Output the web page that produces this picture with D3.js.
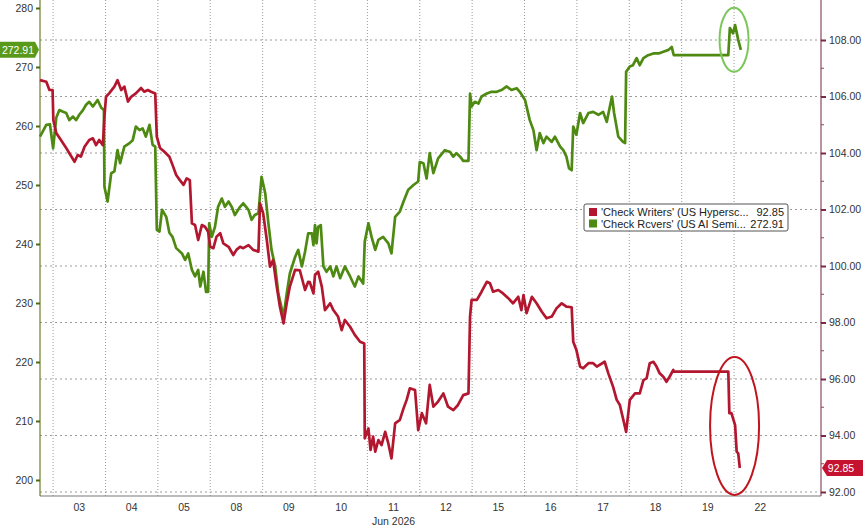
<!DOCTYPE html>
<html>
<head>
<meta charset="utf-8">
<script src="https://cdn.jsdelivr.net/npm/d3@7"></script>
<style>
  html,body{margin:0;padding:0;background:#fff;}
  svg{display:block;font-family:"Liberation Sans",Arial,sans-serif;}
</style>
</head>
<body>
<svg id="chart" width="863" height="527"></svg>
<script>
// ---- data (time in trading days from start of 03 Jun) ----
const dayLabels = ["03","04","05","08","09","10","11","12","15","16","17","18","19","22"];
const leftTicks = [200,210,220,230,240,250,260,270,280];
const rightTicks = [92,94,96,98,100,102,104,106,108];
const rightMinor = [93,95,97,99,101,103,105,107];

const seriesNames = ["'Check Writers' (US Hypersc...", "'Check Rcvers' (US AI Semi..."];
const lastValues = [92.85, 272.91];

// 'Check Rcvers' (left axis)
const rcvers = [[-0.25,258.2],[-0.13,260.2],[-0.06,260.3],[0.0,256.2],[0.06,261.4],[0.12,262.7],[0.19,262.4],[0.25,262.2],[0.31,261.0],[0.38,261.6],[0.44,261.0],[0.50,261.9],[0.57,262.7],[0.63,263.6],[0.69,264.1],[0.76,263.3],[0.85,264.4],[0.92,263.1],[0.97,262.7],[0.98,249.7],[1.04,247.2],[1.11,252.0],[1.17,252.3],[1.23,255.9],[1.28,253.7],[1.36,256.5],[1.46,257.1],[1.52,257.6],[1.58,259.9],[1.65,259.3],[1.71,259.6],[1.77,258.2],[1.84,260.2],[1.90,256.8],[1.95,256.5],[1.98,242.4],[2.03,242.1],[2.08,245.8],[2.16,244.6],[2.22,241.9],[2.28,241.2],[2.35,239.3],[2.46,238.4],[2.52,237.3],[2.58,238.4],[2.65,235.6],[2.71,234.5],[2.77,235.6],[2.81,232.8],[2.87,235.3],[2.92,231.9],[2.96,231.9],[2.98,243.5],[3.03,241.2],[3.09,242.9],[3.15,246.3],[3.22,247.7],[3.28,246.3],[3.35,247.2],[3.41,246.3],[3.47,244.9],[3.57,246.3],[3.63,246.9],[3.73,245.8],[3.79,244.1],[3.85,244.9],[3.92,245.2],[3.98,251.4],[4.05,248.6],[4.11,243.5],[4.17,239.0],[4.24,236.2],[4.30,231.6],[4.40,227.7],[4.46,231.6],[4.52,235.0],[4.62,237.8],[4.68,239.0],[4.75,236.2],[4.81,238.7],[4.87,241.8],[4.94,241.8],[4.97,239.8],[5.00,243.2],[5.03,240.1],[5.06,242.9],[5.11,243.2],[5.16,236.2],[5.22,235.3],[5.29,236.2],[5.35,234.5],[5.41,236.2],[5.48,234.2],[5.57,236.2],[5.67,234.5],[5.76,232.8],[5.83,234.5],[5.92,233.3],[5.95,240.4],[6.02,243.5],[6.08,241.2],[6.15,239.0],[6.21,240.7],[6.30,241.2],[6.40,240.1],[6.46,238.4],[6.53,244.6],[6.62,245.5],[6.69,247.2],[6.78,249.2],[6.88,250.0],[6.97,250.6],[7.00,253.9],[7.07,253.7],[7.13,251.1],[7.19,255.4],[7.26,252.0],[7.35,254.5],[7.48,255.9],[7.58,255.6],[7.64,254.8],[7.70,255.4],[7.77,254.8],[7.83,254.1],[7.93,254.1],[7.96,265.5],[7.99,263.3],[8.05,264.1],[8.12,263.8],[8.18,265.0],[8.28,265.5],[8.37,265.8],[8.47,265.8],[8.56,266.1],[8.66,266.7],[8.75,266.1],[8.85,266.4],[8.91,265.8],[9.01,264.4],[9.10,261.0],[9.17,259.3],[9.23,255.9],[9.29,258.8],[9.36,257.1],[9.42,258.2],[9.52,257.3],[9.58,258.2],[9.68,256.5],[9.74,255.9],[9.80,254.8],[9.85,252.8],[9.90,252.5],[9.93,259.9],[9.99,258.5],[10.06,262.2],[10.12,260.5],[10.22,262.2],[10.31,262.4],[10.41,261.9],[10.50,262.4],[10.57,260.7],[10.63,263.3],[10.67,265.0],[10.71,262.2],[10.79,258.2],[10.88,257.3],[10.92,257.1],[10.94,269.2],[11.01,270.1],[11.07,270.3],[11.14,271.5],[11.20,270.3],[11.27,271.5],[11.36,272.0],[11.46,272.3],[11.56,272.3],[11.65,272.6],[11.75,272.9],[11.81,273.4],[11.84,272.3],[11.85,272.0],[12.89,272.0],[12.92,276.6],[12.98,275.7],[13.02,277.1],[13.08,274.6],[13.13,272.91]];

// 'Check Writers' (right axis)
const writers = [[-0.25,106.58],[-0.13,106.52],[-0.07,106.23],[-0.01,106.23],[0.005,105.17],[0.06,104.71],[0.15,104.46],[0.25,104.18],[0.31,103.99],[0.41,103.69],[0.47,103.93],[0.53,103.87],[0.60,104.22],[0.69,104.46],[0.76,104.52],[0.82,104.28],[0.88,104.46],[0.95,104.28],[0.98,105.29],[1.01,105.99],[1.07,106.11],[1.17,106.35],[1.23,106.58],[1.30,106.23],[1.36,106.35],[1.43,105.82],[1.49,105.99],[1.58,106.11],[1.68,106.30],[1.74,106.17],[1.81,106.23],[1.87,106.17],[1.95,106.11],[1.98,104.58],[2.04,104.18],[2.12,104.05],[2.22,103.87],[2.28,103.58],[2.35,103.22],[2.42,103.04],[2.49,102.87],[2.55,103.10],[2.61,103.04],[2.65,101.51],[2.71,101.45],[2.77,100.92],[2.84,101.45],[2.90,101.39],[2.96,101.21],[3.00,100.68],[3.06,100.63],[3.12,101.04],[3.19,101.16],[3.25,100.80],[3.35,100.68],[3.44,100.39],[3.50,100.57],[3.57,100.68],[3.63,100.63],[3.73,100.74],[3.82,100.57],[3.92,100.51],[3.95,102.22],[4.01,101.87],[4.08,100.92],[4.14,99.98],[4.20,100.21],[4.27,99.27],[4.33,98.56],[4.40,97.97],[4.46,98.68],[4.52,99.27],[4.62,99.86],[4.71,99.85],[4.81,99.15],[4.87,99.44],[4.90,99.43],[4.97,99.03],[5.00,99.68],[5.06,99.80],[5.13,99.27],[5.19,98.44],[5.29,98.68],[5.35,98.44],[5.44,98.21],[5.51,97.73],[5.57,98.09],[5.67,97.85],[5.76,97.56],[5.86,97.32],[5.94,97.26],[5.95,93.90],[6.02,94.25],[6.06,93.49],[6.11,93.96],[6.15,93.43],[6.21,93.84],[6.27,93.66],[6.34,94.13],[6.40,93.72],[6.46,93.19],[6.53,94.43],[6.62,94.55],[6.69,94.96],[6.75,95.26],[6.81,95.67],[6.91,95.61],[6.97,94.19],[7.04,94.79],[7.12,94.43],[7.19,95.79],[7.26,95.02],[7.35,95.20],[7.45,95.49],[7.54,95.02],[7.64,94.90],[7.73,95.08],[7.83,95.43],[7.93,95.49],[7.96,98.21],[7.99,98.80],[8.09,98.80],[8.18,99.09],[8.28,99.44],[8.34,99.39],[8.40,99.09],[8.50,99.15],[8.59,99.03],[8.69,98.86],[8.78,98.68],[8.88,98.91],[8.94,98.44],[8.98,98.97],[9.04,98.33],[9.14,98.91],[9.23,98.68],[9.33,98.38],[9.42,98.15],[9.52,98.21],[9.61,98.50],[9.71,98.68],[9.80,98.56],[9.90,98.54],[9.93,97.32],[9.99,97.03],[10.06,96.44],[10.12,96.38],[10.22,96.56],[10.31,96.56],[10.38,96.44],[10.53,96.61],[10.60,96.20],[10.69,95.73],[10.76,95.26],[10.82,95.08],[10.94,94.13],[11.01,95.26],[11.11,95.49],[11.20,95.49],[11.27,95.96],[11.33,96.02],[11.39,96.56],[11.46,96.61],[11.52,96.44],[11.58,96.20],[11.65,96.08],[11.71,95.90],[11.77,96.08],[11.84,96.32],[11.85,96.26],[12.89,96.26],[12.91,94.79],[12.95,94.79],[13.02,94.37],[13.05,93.43],[13.08,93.37],[13.11,92.85]];

// ---- drawing ----
const W = 863, H = 527;
const plot = {left: 40, right: 821, top: 0, bottom: 496};
const RED = "#b3172f", GREEN = "#4e8a12";

const svg = d3.select("#chart");

const x = d3.scaleLinear().domain([-0.25, 14.66]).range([plot.left, plot.right]);
const yL = d3.scaleLinear().domain([200, 280]).range([480, 8]);
const yR = d3.scaleLinear().domain([92, 108]).range([492, 40]);

// grid
const grid = svg.append("g");
grid.selectAll("line.h").data(rightTicks).join("line")
  .attr("x1", plot.left).attr("x2", plot.right)
  .attr("y1", d => yR(d)).attr("y2", d => yR(d))
  .attr("stroke", "#9a9a9a").attr("stroke-width", 1).attr("stroke-dasharray", "2,3");
grid.selectAll("line.v").data(d3.range(dayLabels.length)).join("line")
  .attr("x1", d => x(d)).attr("x2", d => x(d))
  .attr("y1", plot.top).attr("y2", plot.bottom)
  .attr("stroke", "#9a9a9a").attr("stroke-width", 1).attr("stroke-dasharray", "1,2");

// axes lines
svg.append("line").attr("x1", plot.left).attr("x2", plot.right).attr("y1", plot.bottom).attr("y2", plot.bottom)
  .attr("stroke", "#7a7a7a").attr("stroke-width", 1.2);
svg.append("line").attr("x1", plot.left).attr("x2", plot.left).attr("y1", plot.top).attr("y2", plot.bottom)
  .attr("stroke", "#6b7f2a").attr("stroke-width", 1.2);
svg.append("line").attr("x1", plot.right).attr("x2", plot.right).attr("y1", plot.top).attr("y2", plot.bottom)
  .attr("stroke", "#8a4a62").attr("stroke-width", 1.2);

// left axis
const la = svg.append("g").attr("transform", `translate(${plot.left},0)`)
  .call(d3.axisLeft(yL).tickValues(leftTicks).tickSize(4).tickPadding(3).tickFormat(d3.format("d")));
la.select(".domain").remove();
la.selectAll(".tick line").attr("stroke", "#4e6a12").attr("stroke-width", 2);
la.selectAll(".tick text").attr("fill", "#333").style("font-size", "10.5px").style("font-family", "Liberation Sans, Arial");

// right axis
const ra = svg.append("g").attr("transform", `translate(${plot.right},0)`)
  .call(d3.axisRight(yR).tickValues(rightTicks).tickSize(5).tickPadding(3).tickFormat(d3.format(".2f")));
ra.select(".domain").remove();
ra.selectAll(".tick line").attr("stroke", "#7a2a45").attr("stroke-width", 2);
ra.selectAll(".tick text").attr("fill", "#333").style("font-size", "10.5px").style("font-family", "Liberation Sans, Arial");
svg.append("g").selectAll("line").data(rightMinor).join("line")
  .attr("x1", plot.right).attr("x2", plot.right + 3)
  .attr("y1", d => yR(d)).attr("y2", d => yR(d))
  .attr("stroke", "#8a4a62").attr("stroke-width", 1);

// bottom labels
svg.append("g").selectAll("text").data(dayLabels).join("text")
  .attr("x", (d, i) => x(i + 0.5)).attr("y", 511)
  .attr("text-anchor", "middle").attr("fill", "#333").style("font-size", "10.5px")
  .text(d => d);
svg.append("text").attr("x", x(6.5)).attr("y", 525).attr("text-anchor", "middle")
  .attr("fill", "#333").style("font-size", "10.5px").text("Jun 2026");

// lines
const lineL = d3.line().x(d => x(d[0])).y(d => yL(d[1]));
const lineR = d3.line().x(d => x(d[0])).y(d => yR(d[1]));
svg.append("path").datum(rcvers).attr("d", lineL).attr("fill", "none")
  .attr("stroke", GREEN).attr("stroke-width", 2.7).attr("stroke-linejoin", "round");
svg.append("path").datum(writers).attr("d", lineR).attr("fill", "none")
  .attr("stroke", RED).attr("stroke-width", 2.7).attr("stroke-linejoin", "round");

// ellipses annotation
svg.append("ellipse").attr("cx", x(13.0)).attr("cy", yL(274.6)).attr("rx", 14.5).attr("ry", 32)
  .attr("fill", "none").attr("stroke", "#7cc75a").attr("stroke-width", 2);
svg.append("ellipse").attr("cx", x(13.01)).attr("cy", yR(94.34)).attr("rx", 24.5).attr("ry", 69)
  .attr("fill", "none").attr("stroke", "#c0141e").attr("stroke-width", 2);

// value tags
const gy = yL(lastValues[1]);
svg.append("path")
  .attr("d", `M0,${gy-8} L35,${gy-8} L39,${gy} L35,${gy+8} L0,${gy+8} Z`)
  .attr("fill", "#5a9a1a");
svg.append("text").attr("x", 18).attr("y", gy + 3.8).attr("text-anchor", "middle")
  .attr("fill", "#fff").style("font-size", "10.5px").text(d3.format(".2f")(lastValues[1]));
const ry = yR(lastValues[0]);
svg.append("path")
  .attr("d", `M${W},${ry-8} L827,${ry-8} L822,${ry} L827,${ry+8} L${W},${ry+8} Z`)
  .attr("fill", "#c4122f");
svg.append("text").attr("x", 841).attr("y", ry + 3.8).attr("text-anchor", "middle")
  .attr("fill", "#fff").style("font-size", "10.5px").text(d3.format(".2f")(lastValues[0]));

// legend
const lg = svg.append("g").attr("transform", "translate(584,204)");
lg.append("rect").attr("width", 204).attr("height", 27).attr("rx", 2)
  .attr("fill", "#fff").attr("stroke", "#555").attr("stroke-width", 1);
const legColors = [RED, GREEN];
seriesNames.forEach((n, i) => {
  lg.append("rect").attr("x", 5).attr("y", 4 + i * 11.5).attr("width", 8).attr("height", 8)
    .attr("fill", legColors[i]);
  lg.append("text").attr("x", 17).attr("y", 12 + i * 11.5).attr("fill", "#222")
    .style("font-size", "11px").text(n);
  lg.append("text").attr("x", 200).attr("y", 12 + i * 11.5).attr("fill", "#222")
    .attr("text-anchor", "end").style("font-size", "11px").text(d3.format(".2f")(lastValues[i]));
});
</script>
</body>
</html>
